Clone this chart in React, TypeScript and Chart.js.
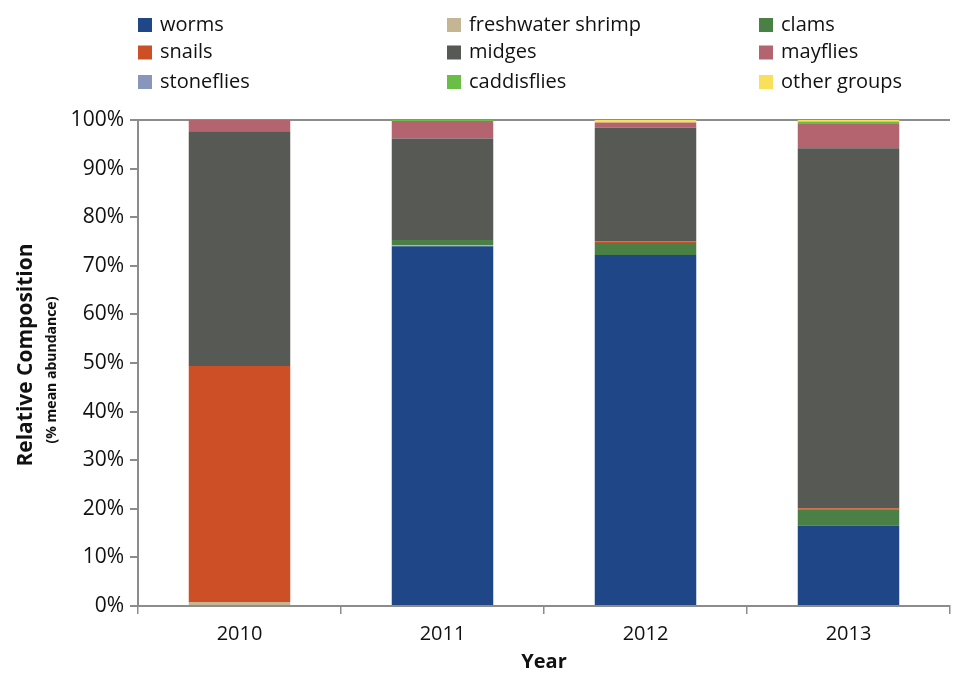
import { useEffect, useRef } from "react";
import { Chart, registerables } from "chart.js";

Chart.register(...registerables);

// Survey years
const years = ["2010", "2011", "2012", "2013"];

// Relative composition (% of mean abundance), stacked bottom to top
const worms = [0, 74.0, 72.2, 16.5];
const freshwaterShrimp = [0.8, 0.2, 0, 0];
const clams = [0, 1.1, 2.5, 3.4];
const snails = [48.6, 0, 0.3, 0.2];
const midges = [48.3, 20.9, 23.4, 74.1];
const mayflies = [2.3, 3.6, 1.1, 5.0];
const stoneflies = [0, 0, 0, 0];
const caddisflies = [0, 0.2, 0, 0.5];
const otherGroups = [0, 0, 0.5, 0.3];

// Y axis tick values
const yTicks = [0, 10, 20, 30, 40, 50, 60, 70, 80, 90, 100];

const groupNames = [
  "worms",
  "freshwater shrimp",
  "clams",
  "snails",
  "midges",
  "mayflies",
  "stoneflies",
  "caddisflies",
  "other groups",
];
const groupValues = [
  worms,
  freshwaterShrimp,
  clams,
  snails,
  midges,
  mayflies,
  stoneflies,
  caddisflies,
  otherGroups,
];
const groupColors = [
  "#1f4686",
  "#c5b693",
  "#4a7f45",
  "#cc4f26",
  "#575955",
  "#b4646f",
  "#8896bb",
  "#6abd45",
  "#fadf5a",
];

const FONT = '"Open Sans", "Noto Sans", sans-serif';
const AXIS_GRAY = "#8c8c8c";

// Three-column legend laid out row by row above the plot
const gridLegend = {
  id: "gridLegend",
  afterDraw(chart: Chart) {
    const { ctx } = chart;
    const cols = [138, 447, 759];
    const rows = [25, 52.5, 82];
    const box = 14;
    ctx.save();
    ctx.font = `20px ${FONT}`;
    ctx.textBaseline = "middle";
    ctx.textAlign = "left";
    chart.data.datasets.forEach((ds, i) => {
      const x = cols[i % 3];
      const y = rows[Math.floor(i / 3)];
      ctx.fillStyle = ds.backgroundColor as string;
      ctx.fillRect(x, y - box / 2, box, box);
      ctx.fillStyle = "#111";
      ctx.fillText(ds.label as string, x + 22, y);
    });
    ctx.restore();
  },
};

// Two-line rotated y axis title with a smaller second line
const yTitle = {
  id: "yTitle",
  afterDraw(chart: Chart) {
    const { ctx } = chart;
    ctx.save();
    ctx.fillStyle = "#111";
    ctx.textAlign = "center";
    ctx.textBaseline = "middle";
    ctx.translate(26, 355);
    ctx.rotate(-Math.PI / 2);
    ctx.font = `bold 21px ${FONT}`;
    ctx.fillText("Relative Composition", 0, 0);
    ctx.restore();
    ctx.save();
    ctx.fillStyle = "#111";
    ctx.textAlign = "center";
    ctx.textBaseline = "middle";
    ctx.translate(52, 370);
    ctx.rotate(-Math.PI / 2);
    ctx.font = `bold 14px ${FONT}`;
    ctx.fillText("(% mean abundance)", 0, 0);
    ctx.restore();
  },
};

export default function App() {
  const canvasRef = useRef<HTMLCanvasElement | null>(null);

  useEffect(() => {
    if (!canvasRef.current) return;
    const chart = new Chart(canvasRef.current, {
      type: "bar",
      data: {
        labels: years,
        datasets: groupNames.map((name, i) => ({
          label: name,
          data: groupValues[i],
          backgroundColor: groupColors[i],
          borderWidth: 0,
          categoryPercentage: 1,
          barPercentage: 0.5,
        })),
      },
      options: {
        animation: false,
        responsive: true,
        maintainAspectRatio: false,
        layout: { padding: { top: 120, left: 0, right: 11, bottom: 0 } },
        plugins: {
          legend: { display: false },
          tooltip: { enabled: false },
        },
        scales: {
          x: {
            stacked: true,
            afterFit: (scale: any) => {
              scale.height = 68;
            },
            grid: {
              offset: true,
              drawOnChartArea: false,
              tickLength: 8,
              color: AXIS_GRAY,
              lineWidth: 1.5,
            },
            border: { color: AXIS_GRAY, width: 2 },
            ticks: {
              color: "#111",
              padding: 8,
              font: { family: FONT, size: 20 },
            },
            title: {
              display: true,
              text: "Year",
              color: "#111",
              font: { family: FONT, size: 20, weight: "bold" },
              padding: { top: 0, bottom: 0 },
            },
          },
          y: {
            stacked: true,
            min: 0,
            max: 100,
            afterFit: (scale: any) => {
              scale.width = 138;
            },
            afterBuildTicks: (scale: any) => {
              scale.ticks = yTicks.map((v) => ({ value: v }));
            },
            grid: {
              tickLength: 8,
              lineWidth: 2,
              color: (c: any) => (c.tick && c.tick.value === 100 ? AXIS_GRAY : "rgba(0,0,0,0)"),
              tickColor: AXIS_GRAY,
            },
            border: { color: AXIS_GRAY, width: 2 },
            ticks: {
              color: "#111",
              padding: 6,
              font: { family: FONT, size: 21 },
              callback: (v: any) => `${v}%`,
            },
          },
        },
      },
      plugins: [gridLegend, yTitle],
    });
    return () => chart.destroy();
  }, []);

  return (
    <div style={{ position: "absolute", left: 0, top: 0, width: 961, height: 674, background: "#fff" }}>
      <canvas ref={canvasRef} />
    </div>
  );
}
